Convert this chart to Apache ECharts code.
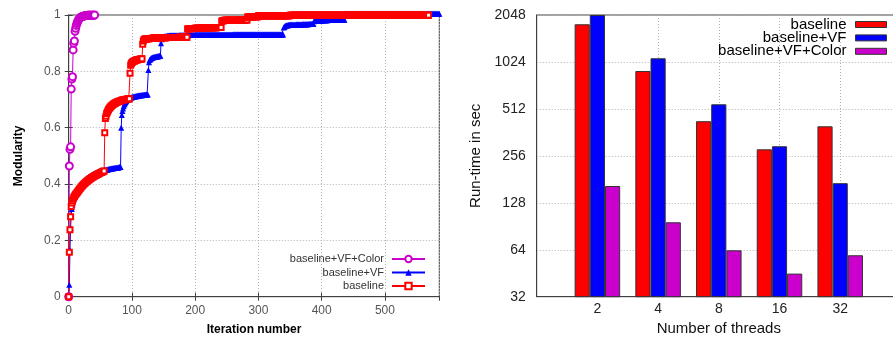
<!DOCTYPE html>
<html>
<head>
<meta charset="utf-8">
<script src="https://cdn.jsdelivr.net/npm/echarts@6/dist/echarts.min.js"></script>
<style>
  html, body { margin: 0; padding: 0; background: #fff; }
  #chart { width: 893px; height: 337px; }
</style>
</head>
<body>
<div id="chart"></div>
<script>
// ---- Left panel: modularity per iteration (array index = iteration number) ----
const modularityVFColor = [
  0, 0.464, 0.523, 0.532, 0.737, 0.773, 0.781, 0.876, 0.9, 0.908,
  0.942, 0.953, 0.963, 0.97, 0.976, 0.981, 0.985, 0.988, 0.99, 0.992,
  0.993, 0.994, 0.995, 0.996, 0.996, 0.997, 0.997, 0.998, 0.998, 0.998,
  0.999, 0.999, 0.999, 0.999, 0.999, 0.999, 0.999, 0.999, 0.999, 0.999,
  0.999, 1
];

const modularityVF = [
  0, 0.042, 0.166, 0.244, 0.29, 0.311, 0.327, 0.338, 0.347, 0.354,
  0.36, 0.366, 0.371, 0.376, 0.38, 0.384, 0.388, 0.391, 0.394, 0.397,
  0.4, 0.403, 0.405, 0.408, 0.41, 0.412, 0.414, 0.416, 0.418, 0.42,
  0.422, 0.423, 0.425, 0.426, 0.428, 0.429, 0.431, 0.432, 0.434, 0.435,
  0.436, 0.437, 0.438, 0.439, 0.44, 0.441, 0.442, 0.443, 0.444, 0.445,
  0.446, 0.446, 0.447, 0.447, 0.448, 0.448, 0.449, 0.449, 0.45, 0.45,
  0.451, 0.451, 0.452, 0.452, 0.453, 0.453, 0.454, 0.454, 0.455, 0.455,
  0.456, 0.456, 0.457, 0.457, 0.457, 0.458, 0.458, 0.458, 0.459, 0.459,
  0.46, 0.46, 0.46, 0.6, 0.645, 0.659, 0.668, 0.676, 0.682, 0.687,
  0.691, 0.695, 0.698, 0.7, 0.702, 0.703, 0.704, 0.705, 0.706, 0.707,
  0.708, 0.709, 0.71, 0.71, 0.711, 0.711, 0.712, 0.712, 0.713, 0.713,
  0.713, 0.714, 0.714, 0.714, 0.715, 0.715, 0.715, 0.716, 0.716, 0.716,
  0.717, 0.717, 0.717, 0.718, 0.718, 0.718, 0.805, 0.832, 0.84, 0.843,
  0.845, 0.847, 0.848, 0.849, 0.85, 0.851, 0.851, 0.852, 0.852, 0.853,
  0.853, 0.854, 0.854, 0.855, 0.855, 0.855, 0.9, 0.914, 0.92, 0.922,
  0.923, 0.924, 0.924, 0.925, 0.925, 0.925, 0.926, 0.926, 0.926, 0.926,
  0.927, 0.927, 0.927, 0.927, 0.927, 0.927, 0.927, 0.927, 0.927, 0.927,
  0.927, 0.927, 0.927, 0.927, 0.927, 0.928, 0.928, 0.928, 0.928, 0.928,
  0.928, 0.928, 0.928, 0.928, 0.928, 0.928, 0.928, 0.928, 0.928, 0.928,
  0.929, 0.929, 0.929, 0.929, 0.929, 0.929, 0.929, 0.929, 0.929, 0.929,
  0.93, 0.93, 0.93, 0.93, 0.93, 0.93, 0.93, 0.93, 0.93, 0.93,
  0.93, 0.93, 0.93, 0.93, 0.93, 0.93, 0.93, 0.93, 0.93, 0.93,
  0.93, 0.93, 0.93, 0.93, 0.93, 0.93, 0.93, 0.93, 0.93, 0.93,
  0.93, 0.93, 0.93, 0.93, 0.93, 0.93, 0.93, 0.93, 0.93, 0.93,
  0.93, 0.93, 0.93, 0.93, 0.93, 0.93, 0.93, 0.93, 0.93, 0.93,
  0.93, 0.93, 0.93, 0.93, 0.93, 0.93, 0.93, 0.93, 0.93, 0.93,
  0.931, 0.931, 0.931, 0.931, 0.931, 0.931, 0.931, 0.931, 0.931, 0.931,
  0.931, 0.931, 0.931, 0.931, 0.931, 0.931, 0.931, 0.931, 0.931, 0.931,
  0.931, 0.931, 0.931, 0.931, 0.931, 0.931, 0.931, 0.931, 0.931, 0.931,
  0.931, 0.931, 0.931, 0.931, 0.931, 0.931, 0.931, 0.931, 0.931, 0.931,
  0.931, 0.931, 0.931, 0.931, 0.931, 0.931, 0.931, 0.931, 0.931, 0.931,
  0.931, 0.931, 0.931, 0.931, 0.931, 0.931, 0.931, 0.931, 0.931, 0.931,
  0.931, 0.931, 0.931, 0.931, 0.931, 0.931, 0.931, 0.931, 0.931, 0.931,
  0.931, 0.931, 0.931, 0.931, 0.931, 0.931, 0.931, 0.931, 0.931, 0.931,
  0.956, 0.958, 0.96, 0.962, 0.963, 0.963, 0.964, 0.964, 0.965, 0.965,
  0.965, 0.965, 0.965, 0.965, 0.965, 0.965, 0.965, 0.965, 0.965, 0.965,
  0.966, 0.966, 0.966, 0.966, 0.966, 0.966, 0.966, 0.966, 0.966, 0.966,
  0.967, 0.967, 0.967, 0.967, 0.967, 0.967, 0.967, 0.967, 0.967, 0.967,
  0.968, 0.968, 0.968, 0.968, 0.968, 0.968, 0.968, 0.968, 0.978, 0.98,
  0.98, 0.98, 0.98, 0.98, 0.98, 0.98, 0.98, 0.98, 0.98, 0.98,
  0.981, 0.981, 0.981, 0.981, 0.981, 0.981, 0.981, 0.981, 0.981, 0.981,
  0.982, 0.982, 0.982, 0.982, 0.982, 0.982, 0.982, 0.982, 0.982, 0.982,
  0.982, 0.982, 0.982, 0.982, 0.982, 0.982, 0.982, 0.982, 0.982, 0.982,
  0.983, 0.983, 0.983, 0.983, 0.983, 0.983, 0.983, 1.004, 1.004, 1.004,
  1.004, 1.004, 1.004, 1.004, 1.004, 1.004, 1.004, 1.004, 1.004, 1.004,
  1.004, 1.004, 1.004, 1.004, 1.004, 1.004, 1.004, 1.004, 1.004, 1.004,
  1.004, 1.004, 1.004, 1.004, 1.004, 1.004, 1.004, 1.004, 1.004, 1.004,
  1.004, 1.004, 1.004, 1.004, 1.004, 1.004, 1.004, 1.004, 1.004, 1.004,
  1.004, 1.004, 1.004, 1.004, 1.004, 1.004, 1.004, 1.004, 1.004, 1.004,
  1.004, 1.004, 1.004, 1.004, 1.004, 1.004, 1.004, 1.004, 1.004, 1.004,
  1.004, 1.004, 1.004, 1.004, 1.004, 1.004, 1.004, 1.004, 1.004, 1.004,
  1.004, 1.004, 1.004, 1.004, 1.004, 1.004, 1.004, 1.004, 1.004, 1.004,
  1.004, 1.004, 1.004, 1.004, 1.004, 1.004, 1.004, 1.004, 1.004, 1.004,
  1.004, 1.004, 1.004, 1.004, 1.004, 1.004, 1.004, 1.004, 1.004, 1.004,
  1.004, 1.004, 1.004, 1.004, 1.004, 1.004, 1.004, 1.004, 1.004, 1.004,
  1.004, 1.004, 1.004, 1.004, 1.004, 1.004, 1.004, 1.004, 1.004, 1.004,
  1.004, 1.004, 1.004, 1.004, 1.004, 1.004, 1.004, 1.004, 1.004, 1.004,
  1.004, 1.004, 1.004, 1.004, 1.004, 1.004, 1.004, 1.004, 1.004, 1.004,
  1.004, 1.004, 1.004, 1.004, 1.004, 1.004, 1.004
];

const modularityBaseline = [
  0, 0.158, 0.238, 0.284, 0.32, 0.333, 0.341, 0.347, 0.352, 0.356,
  0.36, 0.363, 0.366, 0.369, 0.372, 0.375, 0.378, 0.381, 0.384, 0.387,
  0.39, 0.392, 0.395, 0.397, 0.4, 0.402, 0.404, 0.406, 0.408, 0.41,
  0.412, 0.413, 0.415, 0.417, 0.419, 0.42, 0.422, 0.423, 0.425, 0.426,
  0.427, 0.429, 0.43, 0.431, 0.432, 0.434, 0.435, 0.436, 0.437, 0.438,
  0.44, 0.441, 0.442, 0.443, 0.444, 0.445, 0.446, 0.582, 0.633, 0.641,
  0.65, 0.655, 0.66, 0.664, 0.668, 0.671, 0.673, 0.676, 0.678, 0.68,
  0.682, 0.684, 0.685, 0.687, 0.688, 0.689, 0.69, 0.691, 0.692, 0.693,
  0.694, 0.695, 0.696, 0.696, 0.697, 0.698, 0.698, 0.699, 0.699, 0.7,
  0.7, 0.701, 0.701, 0.702, 0.702, 0.703, 0.703, 0.793, 0.822, 0.828,
  0.831, 0.833, 0.835, 0.836, 0.837, 0.838, 0.839, 0.84, 0.84, 0.841,
  0.842, 0.842, 0.843, 0.843, 0.844, 0.844, 0.845, 0.896, 0.908, 0.912,
  0.914, 0.915, 0.915, 0.915, 0.916, 0.916, 0.916, 0.916, 0.917, 0.917,
  0.917, 0.917, 0.917, 0.918, 0.918, 0.918, 0.918, 0.918, 0.918, 0.918,
  0.919, 0.919, 0.919, 0.919, 0.919, 0.919, 0.919, 0.919, 0.919, 0.919,
  0.919, 0.919, 0.919, 0.919, 0.919, 0.92, 0.92, 0.92, 0.92, 0.92,
  0.92, 0.92, 0.92, 0.92, 0.92, 0.92, 0.92, 0.92, 0.92, 0.92,
  0.92, 0.92, 0.92, 0.92, 0.92, 0.921, 0.921, 0.921, 0.921, 0.921,
  0.921, 0.921, 0.921, 0.921, 0.921, 0.921, 0.921, 0.921, 0.95, 0.951,
  0.951, 0.951, 0.951, 0.951, 0.951, 0.952, 0.952, 0.952, 0.952, 0.952,
  0.953, 0.953, 0.953, 0.953, 0.953, 0.953, 0.953, 0.953, 0.953, 0.953,
  0.954, 0.954, 0.954, 0.954, 0.954, 0.954, 0.954, 0.954, 0.954, 0.954,
  0.955, 0.955, 0.955, 0.955, 0.955, 0.955, 0.955, 0.955, 0.955, 0.955,
  0.955, 0.955, 0.955, 0.955, 0.955, 0.956, 0.956, 0.956, 0.956, 0.956,
  0.956, 0.956, 0.978, 0.98, 0.98, 0.98, 0.981, 0.981, 0.981, 0.981,
  0.981, 0.981, 0.981, 0.981, 0.981, 0.981, 0.981, 0.981, 0.981, 0.981,
  0.981, 0.981, 0.981, 0.981, 0.981, 0.981, 0.981, 0.981, 0.981, 0.981,
  0.982, 0.982, 0.982, 0.982, 0.982, 0.982, 0.982, 0.982, 0.982, 0.982,
  0.982, 0.982, 0.982, 0.993, 0.993, 0.993, 0.993, 0.993, 0.993, 0.993,
  0.994, 0.994, 0.994, 0.994, 0.994, 0.994, 0.994, 0.994, 0.994, 0.994,
  0.997, 0.997, 0.997, 0.997, 0.997, 0.997, 0.997, 0.997, 0.997, 0.997,
  0.997, 0.997, 0.997, 0.997, 0.997, 0.997, 0.997, 0.997, 0.997, 0.997,
  0.997, 0.997, 0.997, 0.997, 0.997, 0.997, 0.997, 0.997, 0.997, 0.997,
  0.997, 0.997, 0.997, 0.997, 0.997, 0.997, 0.997, 0.997, 0.997, 0.997,
  0.997, 0.997, 0.997, 0.997, 0.997, 0.997, 0.997, 0.997, 0.997, 0.997,
  0.999, 0.999, 0.999, 0.999, 0.999, 0.999, 0.999, 0.999, 0.999, 0.999,
  0.999, 0.999, 0.999, 0.999, 0.999, 0.999, 0.999, 0.999, 0.999, 0.999,
  0.999, 0.999, 0.999, 0.999, 0.999, 0.999, 0.999, 0.999, 0.999, 0.999,
  0.999, 0.999, 0.999, 0.999, 0.999, 0.999, 0.999, 0.999, 0.999, 0.999,
  0.999, 0.999, 0.999, 0.999, 0.999, 0.999, 0.999, 0.999, 0.999, 0.999,
  0.999, 0.999, 0.999, 0.999, 0.999, 0.999, 0.999, 0.999, 0.999, 0.999,
  0.999, 0.999, 0.999, 0.999, 0.999, 0.999, 0.999, 0.999, 0.999, 0.999,
  0.999, 0.999, 0.999, 0.999, 0.999, 0.999, 0.999, 0.999, 0.999, 0.999,
  0.999, 0.999, 0.999, 0.999, 0.999, 0.999, 0.999, 0.999, 0.999, 0.999,
  0.999, 0.999, 0.999, 0.999, 0.999, 0.999, 0.999, 0.999, 0.999, 0.999,
  0.999, 0.999, 0.999, 0.999, 0.999, 0.999, 0.999, 0.999, 0.999, 0.999,
  0.999, 0.999, 0.999, 0.999, 0.999, 0.999, 0.999, 0.999, 0.999, 0.999,
  0.999, 0.999, 0.999, 0.999, 0.999, 0.999, 0.999, 0.999, 0.999, 0.999,
  0.999, 0.999, 0.999, 0.999, 0.999, 0.999, 0.999, 0.999, 0.999, 0.999,
  0.999, 0.999, 0.999, 0.999, 0.999, 0.999, 0.999, 0.999, 0.999, 0.999,
  0.999, 0.999, 0.999, 0.999, 0.999, 0.999, 0.999, 0.999, 0.999, 0.999,
  0.999, 0.999, 0.999, 0.999, 0.999, 0.999, 0.999, 0.999, 0.999, 0.999,
  0.999, 0.999, 0.999, 0.999, 0.999, 0.999, 0.999, 0.999, 0.999, 0.999,
  0.999, 0.999, 0.999, 0.999, 0.999, 0.999, 0.999, 0.999, 0.999, 0.999,
  0.999, 0.999, 0.999, 0.999, 0.999, 0.999, 0.999, 0.999, 0.999, 0.999,
  0.999, 0.999, 0.999, 0.999, 0.999, 0.999, 0.999, 0.999, 0.999, 0.999,
  0.999, 0.999, 0.999, 0.999, 0.999, 0.999, 0.999, 0.999, 0.999, 0.999
];

// ---- Right panel: run-time in seconds per thread count ----
const threadCounts = ['2', '4', '8', '16', '32'];
const runtimeBaseline = [1786, 896, 427, 282, 396];
const runtimeVF = [2048, 1081, 548, 295, 171];
const runtimeVFColor = [164, 96, 63.5, 45, 59];

const yTicksRuntime = [32, 64, 128, 256, 512, 1024, 2048];

const FONT = '"Liberation Sans", Arial, Helvetica, sans-serif';
const FRAME = '#404040';
const RED = '#ff0000', BLUE = '#0000ff', MAGENTA = '#cc00cc';

const dottedGrid = { show: true, lineStyle: { color: '#b0b0b0', width: 1, type: [1, 2] } };

const toPoints = arr => arr.map((q, it) => [it, q]);
// the category axis runs one slot beyond the outermost groups on each side
const padded = arr => [null, ...arr, null];
const threadAxisCats = ['', ...threadCounts, ''];

const chart = echarts.init(document.getElementById('chart'), null, { renderer: 'canvas' });

const lineCommon = {
  type: 'line',
  xAxisIndex: 0,
  yAxisIndex: 0,
  showAllSymbol: true,
  clip: false,
  silent: true
};

const barCommon = {
  type: 'bar',
  xAxisIndex: 2,
  yAxisIndex: 2,
  barGap: '0%',
  barCategoryGap: '25%',
  clip: true,
  silent: true
};

chart.setOption({
  animation: false,
  textStyle: { fontFamily: FONT },
  grid: [
    { left: 68.7, top: 15, width: 370.6, height: 281.7, show: true, borderColor: FRAME, borderWidth: 1, outerBoundsMode: 'none', containLabel: false },
    { left: 536.7, top: 15, width: 364.2, height: 281.7, show: true, borderColor: FRAME, borderWidth: 1, outerBoundsMode: 'none', containLabel: false }
  ],
  xAxis: [
    {
      gridIndex: 0, type: 'value', min: 0, max: 586, interval: 100,
      name: 'Iteration number', nameLocation: 'middle', nameGap: 27,
      nameTextStyle: { fontFamily: FONT, fontWeight: 'bold', fontSize: 12, color: '#000' },
      axisLine: { show: true, lineStyle: { color: FRAME } },
      axisTick: { show: true, inside: true, length: 4, lineStyle: { color: FRAME } },
      axisLabel: { fontFamily: FONT, fontSize: 12, color: '#555', margin: 8, showMaxLabel: false },
      splitLine: dottedGrid
    },
    {
      gridIndex: 0, type: 'value', position: 'top', min: 0, max: 586, interval: 100,
      axisLine: { show: true, lineStyle: { color: FRAME } },
      axisTick: { show: true, inside: true, length: 4, lineStyle: { color: FRAME } },
      axisLabel: { show: false },
      splitLine: { show: false }
    },
    {
      gridIndex: 1, type: 'category', data: threadAxisCats, boundaryGap: false,
      name: 'Number of threads', nameLocation: 'middle', nameGap: 23,
      nameTextStyle: { fontFamily: FONT, fontSize: 15, color: '#111' },
      axisLine: { show: true, lineStyle: { color: FRAME } },
      axisTick: { show: false },
      axisLabel: { fontFamily: FONT, fontSize: 14, color: '#222', margin: 5.5, interval: 0 },
      splitLine: dottedGrid
    }
  ],
  yAxis: [
    {
      gridIndex: 0, type: 'value', min: 0, max: 1, interval: 0.2,
      name: 'Modularity', nameLocation: 'middle', nameGap: 44,
      nameTextStyle: { fontFamily: FONT, fontWeight: 'bold', fontSize: 12, color: '#000' },
      axisLine: { show: true, lineStyle: { color: FRAME } },
      axisTick: { show: true, inside: true, length: 4, lineStyle: { color: FRAME } },
      axisLabel: { fontFamily: FONT, fontSize: 12, color: '#555', margin: 8 },
      splitLine: dottedGrid
    },
    {
      gridIndex: 0, type: 'value', position: 'right', min: 0, max: 1, interval: 0.2,
      axisLine: { show: true, lineStyle: { color: FRAME } },
      axisTick: { show: true, inside: true, length: 4, lineStyle: { color: FRAME } },
      axisLabel: { show: false },
      splitLine: { show: false }
    },
    {
      gridIndex: 1, type: 'log', logBase: 2, min: 32, max: 2048, splitNumber: 6,
      name: 'Run-time in sec', nameLocation: 'middle', nameGap: 53,
      nameTextStyle: { fontFamily: FONT, fontSize: 15, color: '#111' },
      axisLine: { show: true, lineStyle: { color: FRAME } },
      axisTick: { show: false },
      axisLabel: {
        fontFamily: FONT, fontSize: 14, color: '#222', margin: 11,
        formatter: v => {
          const r = Math.round(v);
          return yTicksRuntime.includes(r) ? String(r) : '';
        }
      },
      splitLine: dottedGrid
    }
  ],
  legend: [
    {
      orient: 'vertical', right: 462, top: 248, align: 'right',
      itemWidth: 33, itemHeight: 8, itemGap: 1.5,
      textStyle: { fontFamily: FONT, fontSize: 11, color: '#333', lineHeight: 12, padding: [0, 3, 0, 0] },
      lineStyle: { width: 2 },
      selectedMode: false,
      data: ['baseline+VF+Color', 'baseline+VF', 'baseline']
    },
    {
      orient: 'vertical', right: 1, top: 12, align: 'right',
      itemWidth: 31, itemHeight: 6, itemGap: -1.6, icon: 'rect',
      textStyle: { fontFamily: FONT, fontSize: 15, color: '#000', lineHeight: 13.4, padding: [0, 4, 0, 0] },
      selectedMode: false,
      data: [
        { name: 'baseline', icon: 'rect', itemStyle: { color: RED, borderColor: '#333', borderWidth: 1 } },
        { name: 'baseline+VF', icon: 'rect', itemStyle: { color: BLUE, borderColor: '#333', borderWidth: 1 } },
        { name: 'baseline+VF+Color', icon: 'rect', itemStyle: { color: MAGENTA, borderColor: '#333', borderWidth: 1 } }
      ]
    }
  ],
  series: [
    Object.assign({}, lineCommon, {
      name: 'baseline+VF+Color',
      data: toPoints(modularityVFColor),
      symbol: 'emptyCircle', symbolSize: 7,
      lineStyle: { color: MAGENTA, width: 1 },
      itemStyle: { color: MAGENTA, borderWidth: 1 }
    }),
    Object.assign({}, lineCommon, {
      name: 'baseline+VF',
      data: toPoints(modularityVF),
      symbol: 'triangle', symbolSize: 6,
      lineStyle: { color: BLUE, width: 1 },
      itemStyle: { color: BLUE }
    }),
    Object.assign({}, lineCommon, {
      name: 'baseline',
      data: toPoints(modularityBaseline),
      symbol: 'emptyRect', symbolSize: 5,
      lineStyle: { color: RED, width: 1 },
      itemStyle: { color: RED, borderWidth: 1 }
    }),
    Object.assign({}, barCommon, {
      name: 'baseline',
      data: padded(runtimeBaseline),
      itemStyle: { color: RED, borderColor: '#333', borderWidth: 1 }
    }),
    Object.assign({}, barCommon, {
      name: 'baseline+VF',
      data: padded(runtimeVF),
      itemStyle: { color: BLUE, borderColor: '#333', borderWidth: 1 }
    }),
    Object.assign({}, barCommon, {
      name: 'baseline+VF+Color',
      data: padded(runtimeVFColor),
      itemStyle: { color: MAGENTA, borderColor: '#333', borderWidth: 1 }
    })
  ]
});
</script>
</body>
</html>
